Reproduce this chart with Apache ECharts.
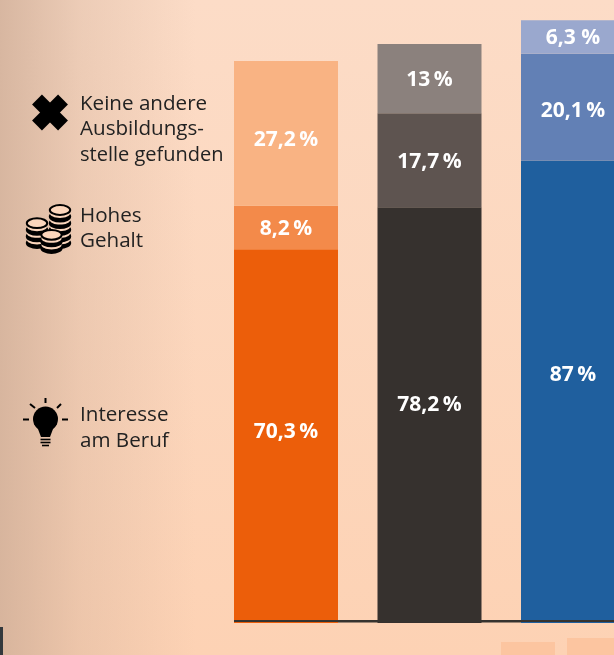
<!DOCTYPE html>
<html><head><meta charset="utf-8">
<style>html,body{margin:0;padding:0;background:#fdd8bd}#c{width:614px;height:655px}</style>
<script src="https://cdn.jsdelivr.net/npm/echarts@6/dist/echarts.min.js"></script>
</head><body><div id="c"></div>
<script>
const categories = ['A', 'B', 'C'];
const interesse = [70.3, 78.2, 87];
const gehalt = [8.2, 17.7, 20.1];
const keineStelle = [27.2, 13, 6.3];
const interesseColors = ['#ec5e0a', '#36312e', '#1f5f9e'];
const gehaltColors = ['#f38a4a', '#5e5450', '#6280b5'];
const keineColors = ['#f9b383', '#8b817d', '#9aa8ce'];
const interesseLabelShift = [-4, -10, -17];
const gehaltLabelShift = [2, 2, 4];
const keineLabelShift = [7, 1, 1];
const legendKeine = 'Keine andere\nAusbildungs-';
const legendKeineLast = 'stelle gefunden';
const legendGehalt = 'Hohes\nGehalt';
const legendInteresse = 'Interesse\nam Beruf';

const font = '"Open Sans"';
const fmt = v => String(v).replace('.', ',') + (v === 6.3 ? '\u00a0%' : '\u2009%');
const makeSeries = (name, values, colors, shifts) => ({
  name, type: 'bar', stack: 'total', barWidth: 104,
  data: values.map((v, i) => ({ value: v, itemStyle: { color: colors[i] }, label: { offset: [0, shifts[i]] } })),
  label: { show: true, position: 'inside', color: '#fff', fontFamily: font, fontWeight: 700, fontSize: 21,
    formatter: p => fmt(p.value) }
});
const legendText = (text, top, size) => ({
  type: 'text', left: 80, top, silent: true,
  style: { text, fontFamily: font, fontSize: size || 20.6, lineHeight: 25.5, fill: '#222' }
});
const seg = (x1, y1, x2, y2, w, cap) => ({
  type: 'line', silent: true, shape: { x1, y1, x2, y2 },
  style: { stroke: '#000', lineWidth: w, lineCap: cap || 'butt' }
});
const coinStack = (cx, bottom, n) => {
  const out = [];
  for (let i = 0; i < n; i++) {
    const top = i === n - 1;
    out.push({ type: 'ellipse', silent: true, shape: { cx, cy: bottom - i * 6.6, rx: 10.2, ry: 4.9 },
      style: { fill: top ? '#fbd6bc' : '#000', stroke: '#000', lineWidth: 2 } });
    if (!top) out.push({ type: 'ellipse', silent: true, shape: { cx, cy: bottom - i * 6.6 - 3, rx: 10, ry: 4.4 },
      style: { fill: '#fbd6bc' } });
  }
  return out;
};

const bgLayers = [
  { type: 'rect', silent: true, z: -10, shape: { x: 0, y: 0, width: 614, height: 655 },
    style: { fill: { type: 'linear', x: 0, y: 0, x2: 0, y2: 1, colorStops: [
      { offset: 0, color: '#fcdcc7' }, { offset: 1, color: '#fdd2b4' }] } } },
  { type: 'rect', silent: true, z: -9, shape: { x: 0, y: 0, width: 230, height: 655 },
    style: { fill: { type: 'linear', x: 0, y: 0, x2: 1, y2: 0, colorStops: [
      { offset: 0, color: 'rgba(205,172,150,0.78)' }, { offset: 0.35, color: 'rgba(205,172,150,0.33)' },
      { offset: 0.85, color: 'rgba(205,172,150,0)' }, { offset: 1, color: 'rgba(205,172,150,0)' }] } } },
  { type: 'rect', silent: true, shape: { x: 501, y: 642, width: 54, height: 13 }, style: { fill: '#fcc5a0' } },
  { type: 'rect', silent: true, shape: { x: 567, y: 638, width: 47, height: 17 }, style: { fill: '#fcc5a0' } },
  { type: 'rect', silent: true, shape: { x: 0, y: 627, width: 3, height: 28 }, style: { fill: '#33383c' } },
  { type: 'rect', silent: true, z: 0, shape: { x: 234, y: 622, width: 380, height: 1 }, style: { fill: 'rgba(54,51,47,0.5)' } },
  { type: 'rect', silent: true, z: 20, shape: { x: 234, y: 620, width: 380, height: 2 }, style: { fill: '#36332f' } }
];
const crossIcon = [seg(37, 99.5, 63, 125.5, 14), seg(63, 99.5, 37, 125.5, 14)];
const coinIcon = [...coinStack(60, 243, 6), ...coinStack(37, 243, 4), ...coinStack(51.5, 248, 3)];
const bulbIcon = [
  { type: 'circle', silent: true, shape: { cx: 45.5, cy: 419, r: 12.5 }, style: { fill: '#000' } },
  { type: 'polygon', silent: true, shape: { points: [[34, 424], [38, 429], [41, 437], [50, 437], [53, 429], [57, 424]] }, style: { fill: '#000' } },
  seg(40.5, 439.5, 50.5, 439.5, 1.6), seg(40.5, 442.5, 50.5, 442.5, 1.6), seg(42, 445.5, 49, 445.5, 1.6),
  seg(45.5, 398, 45.5, 403, 2), seg(23, 419.5, 29, 419.5, 2), seg(62, 419.5, 68, 419.5, 2),
  seg(30, 404, 35, 408, 2), seg(61, 404, 57, 408, 2)
];

const chart = echarts.init(document.getElementById('c'), null, { renderer: 'canvas' });
chart.setOption({
  animation: false,
  grid: { left: 214.25, width: 430.5, top: 1, height: 622, outerBoundsMode: 'none' },
  xAxis: { type: 'category', data: categories,
    axisLine: { show: false },
    axisTick: { show: false }, axisLabel: { show: false } },
  yAxis: { type: 'value', min: 0, max: 117, show: false, splitLine: { show: false } },
  series: [
    makeSeries('Interesse am Beruf', interesse, interesseColors, interesseLabelShift),
    makeSeries('Hohes Gehalt', gehalt, gehaltColors, gehaltLabelShift),
    makeSeries('Keine andere Ausbildungsstelle gefunden', keineStelle, keineColors, keineLabelShift)
  ],
  graphic: [
    ...bgLayers, ...crossIcon, ...coinIcon, ...bulbIcon,
    legendText(legendKeine, 91), legendText(legendKeineLast, 142.5, 20),
    legendText(legendGehalt, 203), legendText(legendInteresse, 402.5)
  ]
});
</script></body></html>
